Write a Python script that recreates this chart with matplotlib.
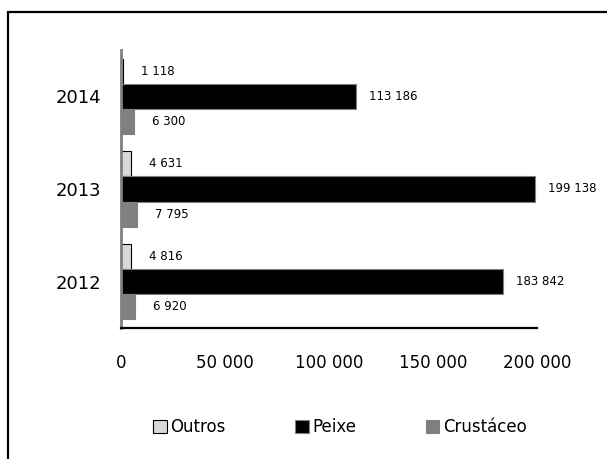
import matplotlib.pyplot as plt
import numpy as np
from matplotlib.patches import Rectangle

years = ["2012", "2013", "2014"]
outros = [4816, 4631, 1118]
peixe = [183842, 199138, 113186]
crustaceo = [6920, 7795, 6300]


def fmt(v):
    return f"{v:,}".replace(",", " ")


plt.rcParams['font.family'] = ['DejaVu Sans']

fig = plt.figure(figsize=(6.07, 4.59), dpi=100)
# outer chart frame (cut off at right and bottom)
fig.patches.append(Rectangle((8 / 607, -0.05), 1.1, 1 - 12 / 459 + 0.05,
                             transform=fig.transFigure, fill=False,
                             edgecolor="black", linewidth=1.6))

ax = fig.add_axes([121 / 607, 1 - 328 / 459, 416 / 607, 278 / 459])

y = np.arange(len(years))
h = 0.27
series = [
    (outros, h, "#d9d9d9", "black", "Outros", 13),
    (peixe, 0, "black", "#808080", "Peixe", 9),
    (crustaceo, -h, "#808080", "#808080", "Crustáceo", 13),
]
for vals, off, fc, ec, name, pad in series:
    bars = ax.barh(y + off, vals, height=h, color=fc, edgecolor=ec,
                   linewidth=0.8, label=name)
    for b, v in zip(bars, vals):
        ax.annotate(fmt(v), (b.get_width(), b.get_y() + b.get_height() / 2),
                    xytext=(pad, 0), textcoords="offset points",
                    va="center", ha="left", fontsize=8.5)

ax.set_xlim(0, 200000)
ax.set_ylim(-0.5, 2.5)
ax.set_yticks(y)
ax.set_yticklabels(years, fontsize=13)
ax.set_xticks([0, 50000, 100000, 150000, 200000])
ax.set_xticklabels([fmt(t) for t in [0, 50000, 100000, 150000, 200000]],
                   fontsize=12)
ax.tick_params(axis="x", length=0, pad=19)
ax.tick_params(axis="y", length=0, pad=14)
for s in ["top", "right"]:
    ax.spines[s].set_visible(False)
ax.spines["left"].set_color("#808080")
ax.spines["left"].set_linewidth(2)
ax.spines["bottom"].set_color("black")
ax.spines["bottom"].set_linewidth(1.6)

handles, labels = ax.get_legend_handles_labels()
fig.legend(handles, labels, loc="center", bbox_to_anchor=(340 / 607, 1 - 427 / 459),
           ncol=3, frameon=False, fontsize=12, handlelength=0.8, handleheight=0.8,
           handletextpad=0.2, columnspacing=4.2)

fig.savefig("out.png", dpi=100)
